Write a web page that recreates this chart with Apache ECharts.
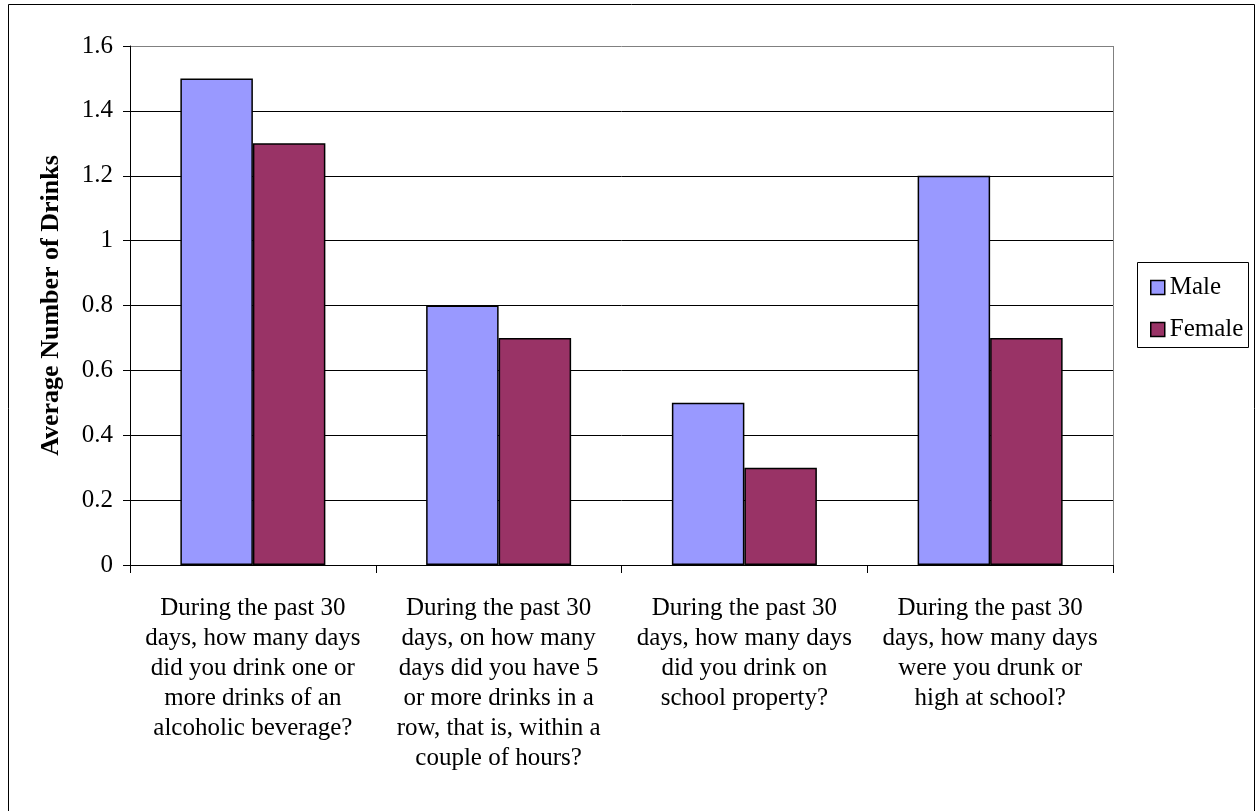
<!DOCTYPE html>
<html><head><meta charset="utf-8">
<script src="https://cdn.jsdelivr.net/npm/echarts@6/dist/echarts.min.js"></script>
<style>html,body{margin:0;padding:0;background:#fff}#c{width:1259px;height:811px}</style>
</head><body><div id="c"></div>
<script>
const categories = [
  "During the past 30\ndays, how many days\ndid you drink one or\nmore drinks of an\nalcoholic beverage?",
  "During the past 30\ndays, on how many\ndays did you have 5\nor more drinks in a\nrow, that is, within a\ncouple of hours?",
  "During the past 30\ndays, how many days\ndid you drink on\nschool property?",
  "During the past 30\ndays, how many days\nwere you drunk or\nhigh at school?"
];
const maleValues = [1.5, 0.8, 0.5, 1.2];
const femaleValues = [1.3, 0.7, 0.3, 0.7];
const yAxisName = "Average Number of Drinks";
const FONT = "'Liberation Serif', 'Times New Roman', serif";

const chart = echarts.init(document.getElementById('c'), null, {renderer: 'canvas'});
chart.setOption({
  animation: false,
  backgroundColor: '#fff',
  textStyle: {fontFamily: FONT, color: '#000'},
  graphic: [
    {type: 'rect', shape: {x: 8.5, y: 4.5, width: 1246, height: 820}, style: {fill: 'none', stroke: '#000', lineWidth: 1}, z: 0},
    {type: 'line', shape: {x1: 1113.5, y1: 46, x2: 1113.5, y2: 565}, style: {stroke: '#808080', lineWidth: 1}, z: 1},
    {type: 'rect', shape: {x: 1137.5, y: 262.5, width: 111, height: 85}, style: {fill: '#fff', stroke: '#000', lineWidth: 1}, z: 1}
  ],
  grid: {left: 130, top: 46, right: 1259 - 1113, bottom: 811 - 565, containLabel: false},
  legend: {
    orient: 'vertical', left: 1145, top: 270, itemGap: 17,
    itemWidth: 14, itemHeight: 14, icon: 'rect',
    textStyle: {fontFamily: FONT, fontSize: 25, lineHeight: 25, color: '#000', padding: [0, 0, 0, 0]},
    itemStyle: {borderColor: '#000', borderWidth: 1.5},
    data: ['Male', 'Female']
  },
  xAxis: {
    type: 'category', data: categories, boundaryGap: true,
    axisLine: {lineStyle: {color: '#000', width: 1}},
    axisTick: {show: true, alignWithLabel: false, length: 8, lineStyle: {color: '#000'}},
    axisLabel: {interval: 0, margin: 28, fontSize: 25, lineHeight: 30, fontFamily: FONT, color: '#000', align: 'center', verticalAlign: 'top'}
  },
  yAxis: {
    type: 'value', min: 0, max: 1.6, interval: 0.2,
    name: yAxisName, nameLocation: 'middle', nameGap: 66, nameRotate: 90,
    nameTextStyle: {fontFamily: FONT, fontSize: 26, fontWeight: 'bold', color: '#000'},
    axisLine: {show: true, lineStyle: {color: '#000', width: 1}},
    axisTick: {show: true, length: 7, lineStyle: {color: '#000'}},
    axisLabel: {margin: 17, fontSize: 25, fontFamily: FONT, color: '#000',
      formatter: v => (Math.round(v * 10) / 10).toString()},
    splitLine: {show: true, lineStyle: {color: ['#000','#000','#000','#000','#000','#000','#000','#000','#808080'], width: 1}}
  },
  series: [
    {name: 'Male', type: 'bar', data: maleValues, barGap: '0%', barCategoryGap: '41%',
      itemStyle: {color: '#9999FF', borderColor: '#000', borderWidth: 1.5}},
    {name: 'Female', type: 'bar', data: femaleValues,
      itemStyle: {color: '#993366', borderColor: '#000', borderWidth: 1.5}}
  ]
});
</script></body></html>
